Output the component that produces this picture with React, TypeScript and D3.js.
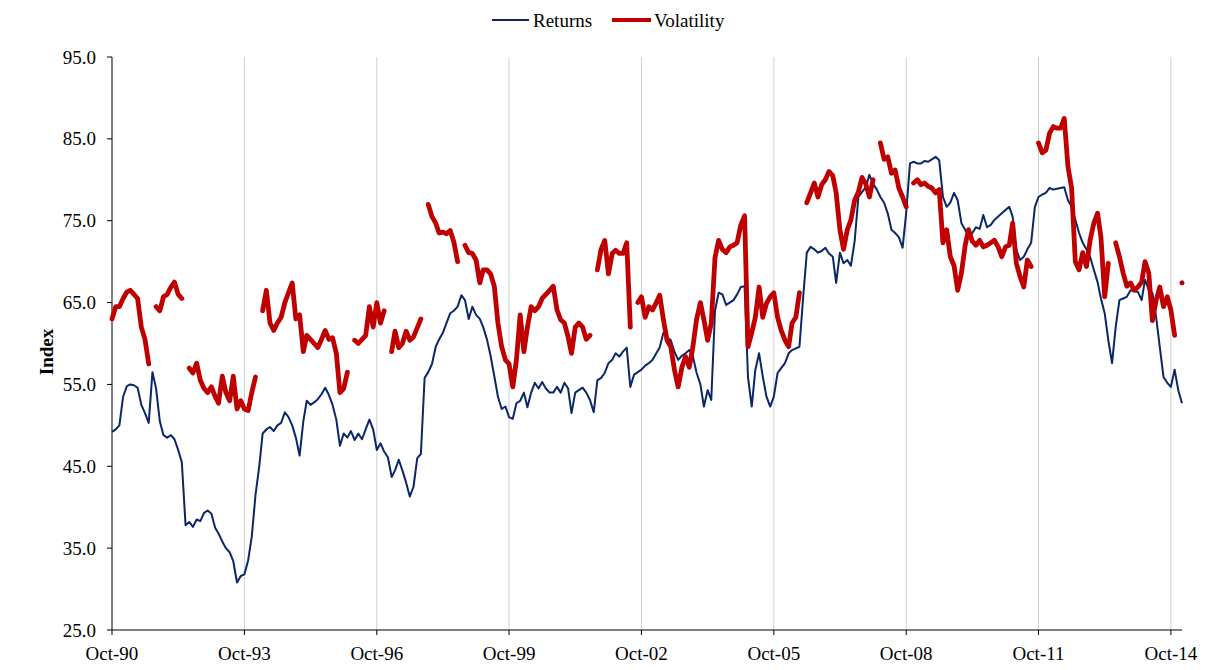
import React from "react";
import * as d3 from "d3";

// monthly values, Oct-90 .. Jan-15
const returns = [
  49.2, 49.5, 50.0, 53.5, 54.8, 55.0, 54.9, 54.6, 52.5, 51.5, 50.3, 56.5,
  54.5, 50.5, 48.8, 48.5, 48.8, 48.3, 47.0, 45.5, 37.8, 38.2, 37.6, 38.5,
  38.3, 39.3, 39.6, 39.2, 37.5, 36.8, 35.8, 35.0, 34.5, 33.4, 30.8, 31.6,
  31.8, 33.5, 36.4, 41.5, 45.0, 49.0, 49.5, 49.8, 49.3, 50.0, 50.3, 51.6,
  51.0, 50.0, 48.5, 46.3, 50.5, 53.0, 52.5, 52.8, 53.2, 53.8, 54.6, 53.7,
  52.5, 50.7, 47.5, 49.0, 48.5, 49.3, 48.2, 49.0, 48.3, 49.5, 50.7, 49.5,
  47.0, 47.8, 46.8, 46.1, 43.7, 44.5, 45.8, 44.5, 43.0, 41.3, 42.5, 46.0,
  46.5, 55.8, 56.5, 57.5, 59.6, 60.5, 61.3, 62.5, 63.7, 64.0, 64.5, 65.9,
  65.3, 63.0, 64.5, 63.5, 63.0, 62.0, 60.5, 58.5, 56.0, 53.5, 52.0, 52.3,
  51.0, 50.8, 52.7, 53.0, 54.0, 52.2, 54.0, 55.2, 54.5, 55.3, 54.5, 54.0,
  54.0, 54.7, 54.0, 55.2, 54.5, 51.5, 54.0, 54.3, 54.6, 54.0, 53.1, 51.6,
  55.5, 55.8, 56.4, 57.6, 58.0, 58.8, 58.4, 59.0, 59.5, 54.7, 56.2, 56.5,
  56.8, 57.3, 57.6, 58.0, 58.8, 59.5, 61.3, 60.8, 60.4, 59.0, 58.0, 58.5,
  58.8, 59.2, 58.4, 56.4, 55.0, 52.3, 54.3, 53.1, 64.0, 66.2, 66.0, 64.7,
  65.0, 65.3, 66.0, 66.9, 67.0, 55.9, 52.3, 56.8, 58.8, 56.0, 53.5, 52.3,
  53.5, 56.4, 57.0, 57.6, 58.8, 59.2, 59.4, 59.6, 65.7, 71.1, 71.8, 71.5,
  71.1, 71.3, 71.7, 71.0, 70.6, 67.4, 71.1, 69.8, 70.2, 69.5, 72.5, 77.9,
  78.5, 79.1, 80.6, 79.5, 78.8, 77.9, 77.2, 75.9, 73.9, 73.5, 73.0, 71.7,
  76.0, 82.0, 82.2, 82.0, 82.0, 82.3, 82.2, 82.5, 82.8, 82.4, 77.9, 76.7,
  77.2, 78.4, 77.5, 74.7, 73.9, 73.0, 73.5, 74.2, 74.0, 75.7, 74.2, 74.5,
  75.1, 75.5, 75.9, 76.3, 76.7, 75.5, 71.4, 70.2, 70.6, 71.5, 72.3, 76.7,
  77.9, 78.2, 78.4, 79.0, 78.8, 78.9, 79.0, 79.1, 77.5, 76.7, 75.1, 73.5,
  72.3, 71.5, 70.6, 69.0, 67.5, 65.5, 63.7, 60.4, 57.6, 62.0, 65.3, 65.5,
  65.7, 66.5, 66.4, 66.3, 65.3, 67.8, 66.5, 66.2, 63.2, 59.6, 55.9, 55.2,
  54.7, 56.8, 54.3, 52.7,
];

// null = no value (gap in the line)
const volatility = [
  63.0, 64.5, 64.5, 65.5, 66.3, 66.5, 66.0, 65.5, 62.0, 60.5, 57.5, null,
  64.5, 64.0, 65.7, 66.0, 66.9, 67.5, 66.0, 65.5, null, 57.0, 56.4, 57.6,
  55.5, 54.5, 54.0, 54.7, 53.5, 52.7, 56.0, 54.0, 53.0, 56.0, 52.0, 53.0,
  52.0, 51.8, 54.0, 55.9, null, 64.0, 66.5, 62.5, 61.6, 62.5, 63.2, 65.0,
  66.2, 67.4, 63.0, 63.5, 59.0, 61.0, 60.5, 60.0, 59.5, 60.5, 61.6, 60.5,
  60.7, 58.8, 54.0, 54.5, 56.5, null, 60.4, 60.0, 60.5, 61.0, 64.5, 62.0,
  65.0, 62.5, 64.0, null, 59.0, 61.5, 59.5, 60.0, 61.5, 60.4, 60.8, 61.9,
  63.0, null, 77.0, 75.5, 74.7, 73.5, 73.6, 73.4, 73.8, 72.4, 70.0, null,
  72.0, 71.1, 71.0, 70.2, 67.4, 69.0, 69.0, 68.5, 67.0, 62.5, 59.6, 58.0,
  57.5, 54.7, 58.0, 63.5, 59.0, 62.0, 64.5, 64.0, 64.5, 65.5, 66.0, 66.5,
  67.0, 64.1, 62.9, 62.5, 60.8, 58.8, 62.0, 62.5, 62.0, 60.5, 61.0, null,
  69.0, 71.5, 72.6, 68.5, 71.0, 71.4, 71.0, 71.0, 72.3, 62.0, null, 65.0,
  65.7, 63.2, 64.5, 64.1, 65.0, 65.9, 62.9, 60.4, 59.6, 56.8, 54.7, 57.1,
  58.4, 57.1, 59.6, 63.0, 65.0, 62.9, 60.4, 62.5, 70.5, 72.6, 71.5, 71.1,
  71.8, 72.0, 72.3, 74.5, 75.6, 59.6, 61.3, 63.2, 66.9, 63.2, 64.9, 65.7,
  66.2, 63.2, 61.6, 60.4, 59.6, 62.5, 63.2, 66.2, null, 77.2, 78.4, 79.6,
  77.9, 79.4, 80.0, 81.0, 80.5, 78.4, 73.9, 71.5, 73.9, 75.1, 77.5, 78.5,
  80.3, 79.5, 77.9, 80.0, null, 84.5, 82.5, 82.8, 80.8, 81.2, 79.0, 77.9,
  76.7, null, 79.6, 80.0, 79.4, 79.6, 79.2, 79.0, 78.4, 78.8, 72.3, 73.9,
  70.6, 69.5, 66.5, 68.6, 72.0, 73.9, 72.5, 72.0, 72.6, 71.8, 72.0, 72.3,
  72.6, 71.8, 70.6, 71.8, 72.0, 74.7, 69.8, 68.2, 66.9, 70.2, 69.4, null,
  84.5, 83.3, 83.6, 85.7, 86.5, 86.3, 86.3, 87.5, 81.6, 79.0, 70.0, 69.0,
  71.1, 69.4, 72.6, 74.7, 75.9, 73.0, 65.7, 69.8, null, 72.3, 70.6, 68.6,
  67.0, 67.4, 66.5, 66.9, 67.5, 70.0, 68.6, 62.8, 65.3, 66.9, 64.5, 65.7,
  64.1, 61.0, null, 67.4,
];

const tickYears = [1990, 1993, 1996, 1999, 2002, 2005, 2008, 2011, 2014];
const yTicks = [25, 35, 45, 55, 65, 75, 85, 95];

const startDate = new Date(1990, 9, 1);
const endDate = new Date(2015, 0, 1);

const blue = "#0a2767";
const red = "#c00000";
const font = "'Liberation Serif', 'Times New Roman', serif";

const W = 1211;
const H = 670;
const margin = { top: 57, right: 29, bottom: 40, left: 112 };

export default function App() {
  const x = d3
    .scaleTime()
    .domain([startDate, endDate])
    .range([margin.left, W - margin.right]);
  const y = d3
    .scaleLinear()
    .domain([25, 95])
    .range([H - margin.bottom, margin.top]);

  const dates = returns.map((_, i) => d3.timeMonth.offset(startDate, i));
  const retData = returns.map((v, i) => ({ d: dates[i], v }));
  const volData = volatility.map((v, i) => ({ d: dates[i], v }));

  const line = d3
    .line<{ d: Date; v: number | null }>()
    .defined((p) => p.v != null)
    .x((p) => x(p.d))
    .y((p) => y(p.v as number));

  // single points that have no neighbours -> draw as dots
  const lonely = volData.filter(
    (p, i) =>
      p.v != null &&
      (i === 0 || volData[i - 1].v == null) &&
      (i === volData.length - 1 || volData[i + 1].v == null)
  );

  const xTicks = tickYears.map((yr) => new Date(yr, 9, 1));
  const fmt = d3.timeFormat("%b-%y");
  const top = margin.top;
  const bottom = H - margin.bottom;

  return (
    <svg
      width={W}
      height={H}
      style={{ position: "absolute", left: 0, top: 0, background: "#fff" }}
      fontFamily={font}
    >
      {/* gridlines */}
      {xTicks.slice(1).map((t, i) => (
        <line
          key={i}
          x1={x(t)}
          x2={x(t)}
          y1={top}
          y2={bottom}
          stroke="#d0d0d0"
          strokeWidth={1}
        />
      ))}

      {/* axes */}
      <line x1={margin.left} x2={margin.left} y1={top} y2={bottom} stroke="#000" />
      <line x1={margin.left} x2={W - margin.right} y1={bottom} y2={bottom} stroke="#000" />

      {yTicks.map((t) => (
        <g key={t}>
          <line x1={margin.left - 5} x2={margin.left} y1={y(t)} y2={y(t)} stroke="#000" />
          <text
            x={margin.left - 16}
            y={y(t)}
            textAnchor="end"
            dominantBaseline="central"
            fontSize={19}
          >
            {t.toFixed(1)}
          </text>
        </g>
      ))}

      {xTicks.map((t, i) => (
        <g key={i}>
          <line x1={x(t)} x2={x(t)} y1={bottom} y2={bottom + 5} stroke="#000" />
          <text x={x(t)} y={bottom + 23} textAnchor="middle" dominantBaseline="central" fontSize={19}>
            {fmt(t)}
          </text>
        </g>
      ))}

      <text
        transform={`translate(46,352) rotate(-90)`}
        textAnchor="middle"
        dominantBaseline="central"
        fontSize={19}
        fontWeight="bold"
      >
        Index
      </text>

      {/* series */}
      <path d={line(retData) || ""} fill="none" stroke={blue} strokeWidth={2} strokeLinejoin="round" />
      <path
        d={line(volData) || ""}
        fill="none"
        stroke={red}
        strokeWidth={4.8}
        strokeLinejoin="round"
        strokeLinecap="round"
      />
      {lonely.map((p, i) => (
        <circle key={i} cx={x(p.d)} cy={y(p.v as number)} r={2.4} fill={red} />
      ))}

      {/* legend */}
      <line x1={492} x2={529} y1={20} y2={20} stroke={blue} strokeWidth={2} />
      <text x={533} y={20} dominantBaseline="central" fontSize={19}>
        Returns
      </text>
      <line x1={612} x2={651} y1={20} y2={20} stroke={red} strokeWidth={4} />
      <text x={654} y={20} dominantBaseline="central" fontSize={19}>
        Volatility
      </text>
    </svg>
  );
}
